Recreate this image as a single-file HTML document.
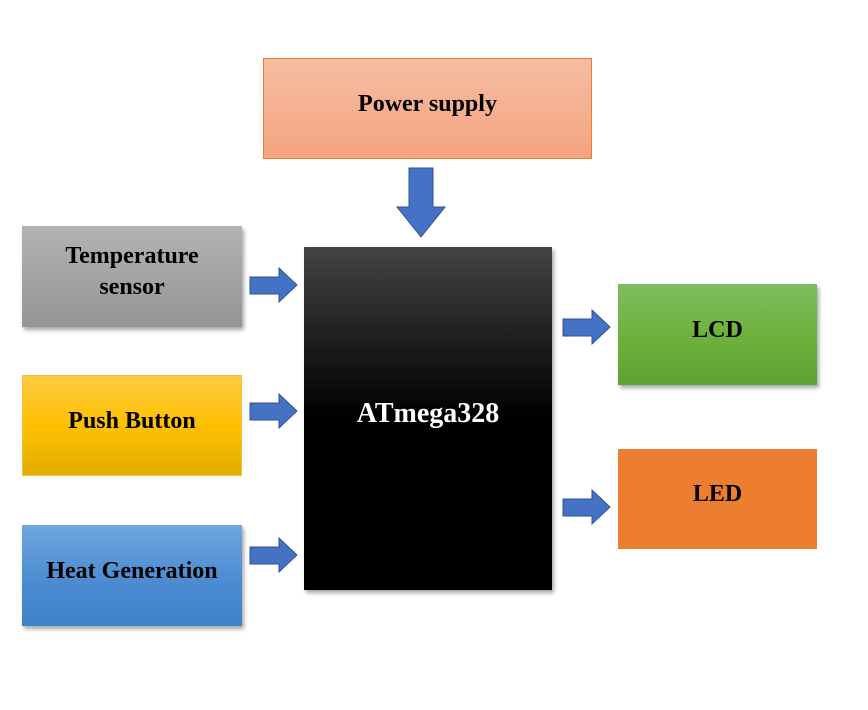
<!DOCTYPE html>
<html><head><style>
body{margin:0;width:868px;height:710px;background:#fff;position:relative;overflow:hidden;font-family:"Liberation Serif",serif;font-weight:bold;}
.b{position:absolute;display:flex;align-items:center;justify-content:center;text-align:center;font-size:24px;color:#000;line-height:31px;box-sizing:border-box;padding-bottom:9px;}
.sh{box-shadow:2px 3px 4px rgba(0,0,0,0.35);}
svg{position:absolute;left:0;top:0;}
</style></head><body>
<div class="b" style="left:263px;top:58px;width:329px;height:101px;background:linear-gradient(#f6bda4,#f4a47e);border:1px solid #ed7d31;">Power supply</div>
<div class="b sh" style="left:22px;top:226px;width:220px;height:101px;background:linear-gradient(#b3b3b3,#959595);">Temperature<br>sensor</div>
<div class="b" style="left:22px;top:375px;width:220px;height:101px;background:linear-gradient(#ffca45,#ffc000 50%,#e2ad00);border:1px solid #f0c040;">Push Button</div>
<div class="b sh" style="left:22px;top:525px;width:220px;height:101px;background:linear-gradient(#6fa6de,#4a8ad0 60%,#3e82c8);">Heat Generation</div>
<div class="b sh" style="left:304px;top:247px;width:248px;height:343px;background:linear-gradient(#444 0%,#1a1a1a 30%,#000 50%,#000);color:#fff;font-size:28px;padding-bottom:10px;">ATmega328</div>
<div class="b sh" style="left:618px;top:284px;width:199px;height:101px;background:linear-gradient(#80bb60,#6fb23f 50%,#5fa232);">LCD</div>
<div class="b" style="left:618px;top:449px;width:199px;height:100px;background:#ed7d31;">LED</div>
<svg width="868" height="710">
<g fill="#4472c4" stroke="#2f528f" stroke-width="1">
<polygon points="409,168 433,168 433,207 445,207 421,237 397,207 409,207"/>
<polygon points="250,277 279,277 279,268 297,285 279,302 279,294 250,294"/>
<polygon points="250,403 279,403 279,394 297,411 279,428 279,420 250,420"/>
<polygon points="250,547 279,547 279,538 297,555 279,572 279,564 250,564"/>
<polygon points="563,319 592,319 592,310 610,327 592,344 592,336 563,336"/>
<polygon points="563,499 592,499 592,490 610,507 592,524 592,516 563,516"/>
</g>
</svg>
</body></html>
